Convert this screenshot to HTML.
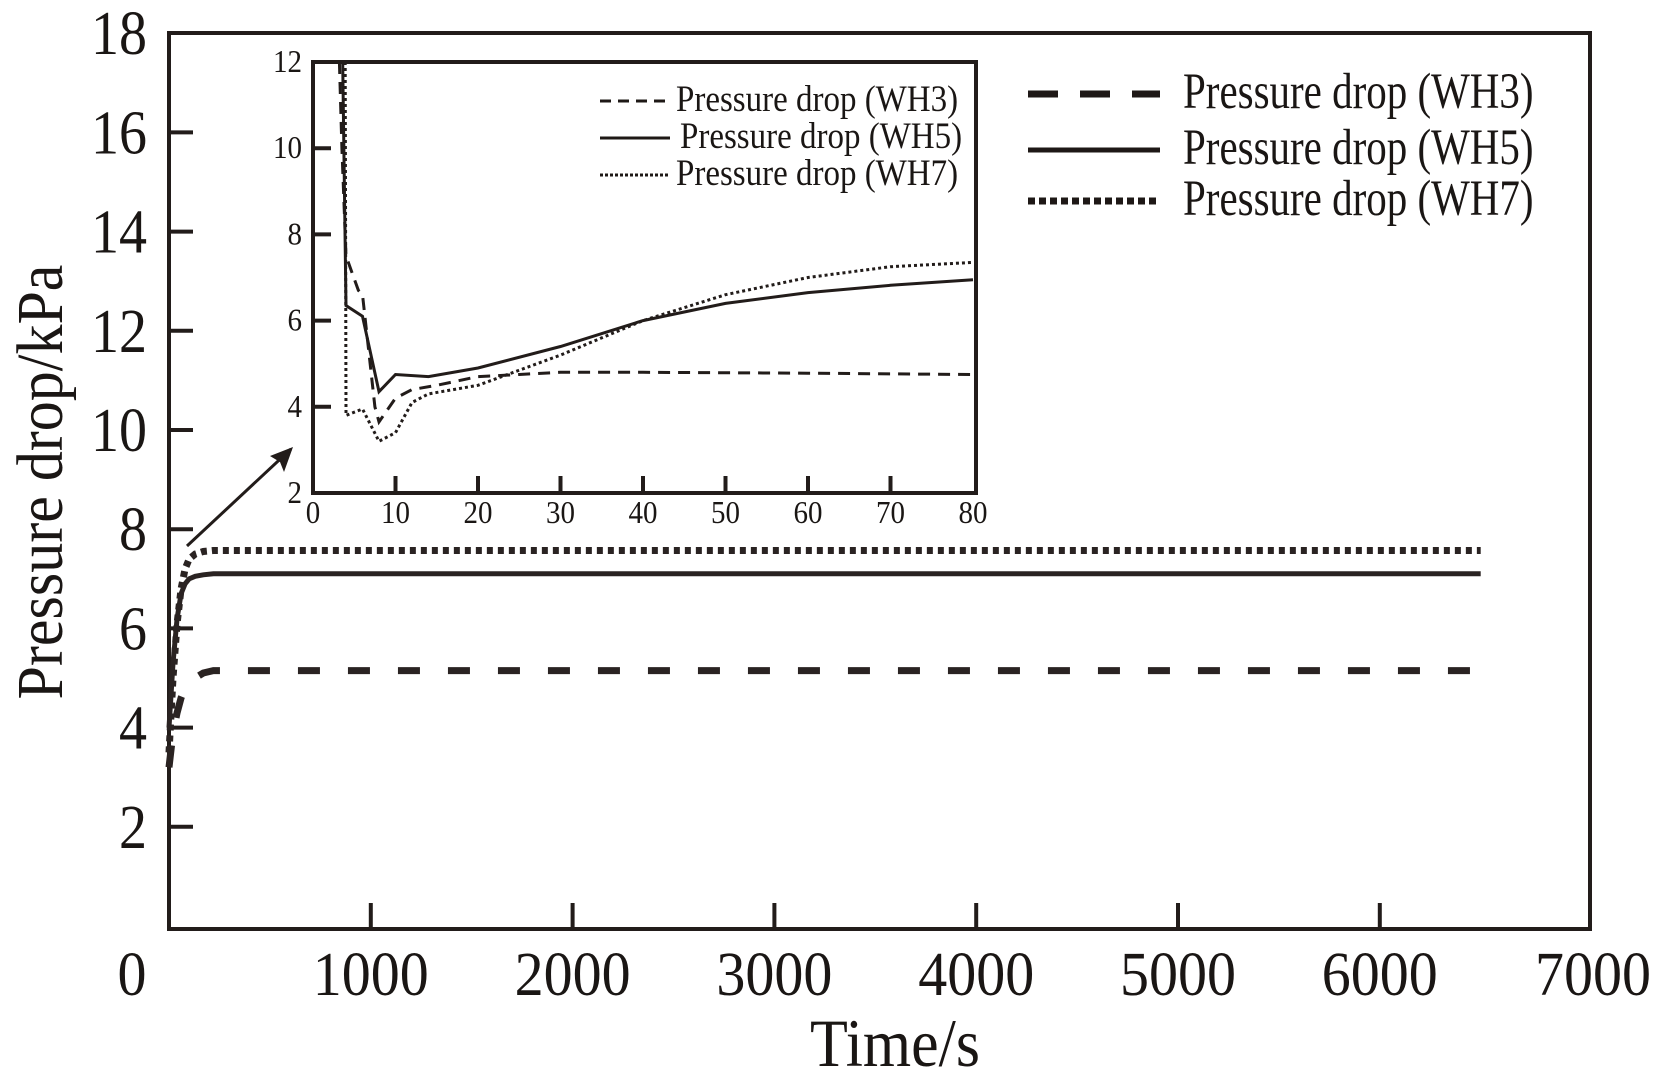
<!DOCTYPE html>
<html><head><meta charset="utf-8"><style>
html,body{margin:0;padding:0;background:#fff}
svg{display:block}
text{font-family:"Liberation Serif",serif;fill:#1a1614}
</style></head><body>
<svg id="chart" width="1660" height="1077" viewBox="0 0 1660 1077">
<g id="main"></g>
<g id="inset"></g>
</svg>
<script>
// ---------- main chart data ----------
const mainXTicks = [0,1000,2000,3000,4000,5000,6000,7000];
const mainYTicks = [2,4,6,8,10,12,14,16,18];
const mainT = [0, 20, 40, 60, 80, 100, 130, 170, 220, 300, 6500];
const mainWH3 = [3.2, 3.9, 4.3, 4.6, 4.8, 4.9, 5.0, 5.1, 5.15, 5.15, 5.15];
const mainWH5 = [4.0, 5.3, 6.2, 6.7, 6.9, 7.0, 7.05, 7.08, 7.1, 7.1, 7.1];
const mainWH7 = [3.5, 5.0, 6.1, 6.8, 7.2, 7.4, 7.5, 7.55, 7.57, 7.57, 7.57];
const legendLabels = ["Pressure drop (WH3)","Pressure drop (WH5)","Pressure drop (WH7)"];
// ---------- inset data ----------
const insetXTicks = [0,10,20,30,40,50,60,70,80];
const insetYTicks = [2,4,6,8,10,12];
const inWH3x = [3.2, 3.5, 4, 5.5, 6, 7.5, 8, 10, 12, 15, 20, 25, 30, 40, 60, 80];
const inWH3y = [12, 10, 7.5, 6.7, 6.6, 4.0, 3.65, 4.2, 4.4, 4.5, 4.7, 4.75, 4.8, 4.8, 4.78, 4.75];
const inWH5x = [3.6, 4, 6, 8, 10, 14, 20, 30, 40, 50, 60, 70, 80];
const inWH5y = [12, 6.35, 6.1, 4.35, 4.75, 4.7, 4.9, 5.4, 6.0, 6.4, 6.65, 6.82, 6.95];
const inWH7x = [3.9, 4, 6, 8, 10, 12, 14, 20, 30, 40, 50, 60, 70, 80];
const inWH7y = [12, 3.8, 3.95, 3.2, 3.4, 4.1, 4.3, 4.5, 5.2, 6.0, 6.6, 7.0, 7.25, 7.35];

const NS = "http://www.w3.org/2000/svg";
function mk(parent, tag, attrs){const e=document.createElementNS(NS,tag);for(const k in attrs)e.setAttribute(k,attrs[k]);parent.appendChild(e);return e;}
const C = "#221c1a";

// main axes
const mx = v => 169 + v*0.2018;
const my = v => 926 - v*49.6;
const main = document.getElementById('main');
let fr = mk(main,'rect',{x:169,y:33,width:1421,height:896,fill:'none',stroke:C,'stroke-width':4});


mainYTicks.forEach(v=>{
  const y=my(v);
  if(v<18){const t=mk(main,'line',{x1:169,x2:193,y1:y,y2:y,stroke:C,'stroke-width':4});
  
  }
  const l=mk(main,'text',{x:0,y:0,'text-anchor':'end','font-size':56,transform:`translate(147,${y+21}) scale(1,1.12)`});
  l.textContent=v;
  
  
});
mainXTicks.forEach(v=>{
  const x=mx(v);
  if(v>0&&v<7000){const t=mk(main,'line',{x1:x,x2:x,y1:929,y2:903,stroke:C,'stroke-width':4});
  
  }
  const cx = v===0?132:(v===7000?1593:x);
  const l=mk(main,'text',{x:0,y:0,'text-anchor':'middle','font-size':58,transform:`translate(${cx},995) scale(1,1.08)`});
  l.textContent=v;
  
  
});
let xt=mk(main,'text',{x:0,y:0,'text-anchor':'middle','font-size':62,transform:'translate(895,1066) scale(1,1.1)'});
xt.textContent='Time/s';


let yt=mk(main,'text',{x:0,y:0,'text-anchor':'middle','font-size':60,transform:'translate(62,482) rotate(-90) scale(1,1.1)'});
yt.textContent='Pressure drop/kPa';



function path(xs,ys,fx,fy){return xs.map((x,i)=>(i?'L':'M')+fx(x).toFixed(1)+','+fy(ys[i]).toFixed(1)).join(' ');}
const styles = [
  {dash:'26,22',w:7},
  {dash:'',w:5},
  {dash:'6,5',w:7}
];
let p3=mk(main,'path',{d:path(mainT,mainWH3,mx,my),fill:'none',stroke:'#2a2322','stroke-width':7,'stroke-dasharray':'22,28'});


let p5=mk(main,'path',{d:path(mainT,mainWH5,mx,my),fill:'none',stroke:'#2a2322','stroke-width':5});


let p7=mk(main,'path',{d:path(mainT,mainWH7,mx,my),fill:'none',stroke:'#2a2322','stroke-width':7,'stroke-dasharray':'6,5'});



// main legend
const legY=[94,150,201];
legendLabels.forEach((lab,i)=>{
  const g=mk(main,'g',{});
  
  
  const a={x1:1028,x2:1160,y1:legY[i],y2:legY[i],stroke:'#1e1816','stroke-width':styles[i].w};
  if(styles[i].dash)a['stroke-dasharray']=i===0?'30,22':'7,4';
  mk(g,'line',a);
  const t=mk(g,'text',{x:0,y:0,'font-size':41,transform:`translate(1183,${legY[i]+14}) scale(1,1.25)`});
  t.textContent=lab;
});

// arrow
let ar=mk(main,'g',{});


mk(ar,'line',{x1:187,y1:546,x2:291,y2:449,stroke:C,'stroke-width':3});
mk(ar,'path',{d:'M293,447 L270,456 L280,462 L284,472 Z',fill:C});

// inset
const ix = v => 313 + v*8.25;
const iy = v => 493 - (v-2)*43.1;
const inset=document.getElementById('inset');
let ifr=mk(inset,'rect',{x:313,y:62,width:663,height:431,fill:'#fff',stroke:C,'stroke-width':4});


insetYTicks.forEach(v=>{
  const y=iy(v);
  if(v>2&&v<12){const t=mk(inset,'line',{x1:313,x2:331,y1:y,y2:y,stroke:C,'stroke-width':4});
  
  }
  const l=mk(inset,'text',{x:0,y:0,'text-anchor':'end','font-size':29,transform:`translate(302,${y+10}) scale(1,1.1)`});
  l.textContent=v;
  
  
});
insetXTicks.forEach(v=>{
  const x=ix(v);
  if(v>0&&v<80){const t=mk(inset,'line',{x1:x,x2:x,y1:493,y2:476,stroke:C,'stroke-width':4});
  
  }
  const l=mk(inset,'text',{x:0,y:0,'text-anchor':'middle','font-size':29,transform:`translate(${x},523) scale(1,1.1)`});
  l.textContent=v;
  
  
});
let i3=mk(inset,'path',{d:path(inWH3x,inWH3y,ix,iy),fill:'none',stroke:'#221c1a','stroke-width':3,'stroke-dasharray':'12,8'});


let i5=mk(inset,'path',{d:path(inWH5x,inWH5y,ix,iy),fill:'none',stroke:'#221c1a','stroke-width':3});


let i7=mk(inset,'path',{d:path(inWH7x,inWH7y,ix,iy),fill:'none',stroke:'#221c1a','stroke-width':3,'stroke-dasharray':'3,3'});


const iLegY=[101,138,175];
legendLabels.forEach((lab,i)=>{
  const g=mk(inset,'g',{});
  
  
  const a={x1:600,x2:670,y1:iLegY[i],y2:iLegY[i],stroke:'#1e1816','stroke-width':3};
  if(i===0)a['stroke-dasharray']='11,7';
  if(i===2)a['stroke-dasharray']='3,2';
  mk(g,'line',a);
  const t=mk(g,'text',{x:0,y:0,'font-size':33,transform:`translate(${i===1?680:676},${iLegY[i]+10}) scale(1,1.12)`});
  t.textContent=lab;
});
</script>
</body></html>
